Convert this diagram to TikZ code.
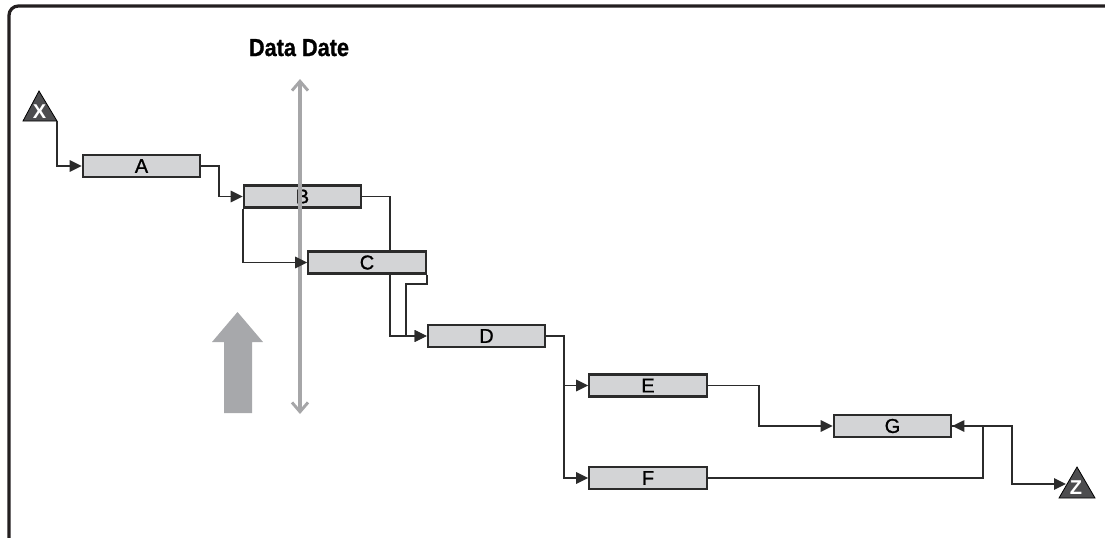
\documentclass[tikz,border=0pt]{standalone}
\usepackage{fontspec}
\setmainfont{Liberation Sans}
\usetikzlibrary{arrows.meta,backgrounds}
\definecolor{boxfill}{HTML}{D3D4D6}
\definecolor{boxline}{HTML}{2B2B2B}
\definecolor{ddgray}{HTML}{A6A6A8}
\definecolor{bigarrowgray}{HTML}{A7A8AB}
\definecolor{trifill}{HTML}{4D4D4F}
\definecolor{framecol}{HTML}{231F20}
\begin{document}
\begin{tikzpicture}[x=0.75pt,y=-0.75pt,
  actbox/.style={draw=boxline,fill=boxfill,line width=1.7pt,minimum width=88pt,minimum height=16.5pt,inner sep=0pt,font=\fontsize{15}{15}\selectfont\addfontfeature{FakeBold=1}},
  conn/.style={draw=boxline,line width=1.35pt,-{Triangle[length=9pt,width=8.5pt]}},
  tri/.style={draw=black,fill=trifill,line width=0.6pt},
  trilabel/.style={text=white,font=\fontsize{15}{15}\selectfont\bfseries,inner sep=0pt},
  ddline/.style={draw=ddgray,line width=2.6pt,{Straight Barb[length=7pt,width=12pt,line width=2.2pt]}-{Straight Barb[length=7pt,width=12pt,line width=2.2pt]}}
]
\useasboundingbox (0,0) rectangle (1105,537);
% frame
\draw[framecol,line width=2.4pt,rounded corners=7pt] (9,540) -- (9,6) -- (1108,6);

% start and end triangles
\draw[tri] (23,121) -- (39,91) -- (57,121) -- cycle;
\node[trilabel] (X) at (39.5,112) {X};
\coordinate (Xout) at (57,121);
\draw[tri] (1059,498) -- (1077,467) -- (1095,498) -- cycle;
\node[trilabel] (Z) at (1076,488) {Z};
\coordinate (Zin) at (1066,484);

% activities
\node[actbox] (A) at (141.5,166) {A};
\node[actbox] (B) at (302.5,196.5) {B};
\node[actbox] (C) at (367,262.5) {C};
\node[actbox] (D) at (486.5,336) {D};
\node[actbox] (E) at (648,385.5) {E};
\node[actbox] (F) at (648,478) {F};
\node[actbox] (G) at (892.5,426) {G};

% routing coordinates
\coordinate (BD) at (390,300);
\coordinate (CD) at (406,310);
\coordinate (DEF) at (564,420);
\coordinate (EG) at (759,400);
\coordinate (FG) at (983,450);
\coordinate (GZ) at (1012,450);

\begin{scope}[on background layer]
\draw[conn] (B.east) -| (BD) |- (D.west);
\end{scope}

% data date
\coordinate (DDtop) at (300,79);
\coordinate (DDbot) at (300,414);
\draw[ddline] (DDtop) -- (DDbot);
\node[anchor=base,inner sep=0pt,font=\fontsize{18.5}{18.5}\selectfont\bfseries\addfontfeature{FakeBold=1},xscale=0.88] (DD) at (299,56) {Data Date};

\draw[conn] (Xout) |- (A.west);
\draw[conn] (A.east) -- ++(18,0) |- (B.west);
\draw[conn] (B.south west) |- (C.west);
\draw[conn] (C.south east) -- ++(0,9) -| (CD) |- (D.west);
\draw[conn] (D.east) -| (DEF) |- (E.west);
\draw[conn] (D.east) -| (DEF) |- (F.west);
\draw[conn] (E.east) -| (EG) |- (G.west);
\draw[conn] (F.east) -| (FG) |- (G.east);
\draw[conn] (G.east) -| (GZ) |- (Zin);

% big gray arrow
\fill[bigarrowgray] (224,413) -- (224,342) -- (212,342) -- (237.5,312) -- (263,342) -- (252,342) -- (252,413) -- cycle;
\end{tikzpicture}
\end{document}
